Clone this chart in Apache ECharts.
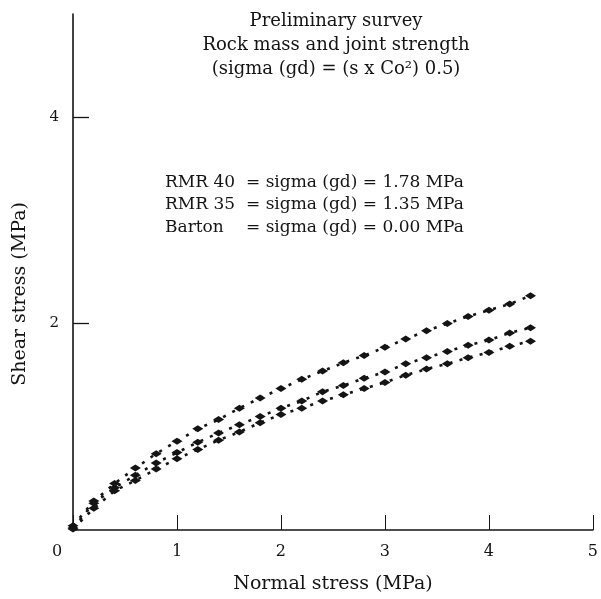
<!DOCTYPE html>
<html>
<head>
<meta charset="utf-8">
<script src="https://cdn.jsdelivr.net/npm/echarts@6/dist/echarts.min.js"></script>
<style>
html,body{margin:0;padding:0;background:#fff;}
#chart{width:601px;height:599px;}
</style>
</head>
<body>
<div id="chart"></div>
<script>
// Normal stress values (MPa)
const normalStress = [0,0.2,0.4,0.6,0.8,1.0,1.2,1.4,1.6,1.8,2.0,2.2,2.4,2.6,2.8,3.0,3.2,3.4,3.6,3.8,4.0,4.2,4.4];
// Shear stress (MPa) per criterion
const rmr40 = [0.04,0.28,0.45,0.60,0.74,0.86,0.98,1.07,1.18,1.28,1.37,1.46,1.54,1.62,1.69,1.77,1.85,1.93,2.00,2.07,2.13,2.19,2.27];
const rmr35 = [0.02,0.26,0.41,0.53,0.65,0.75,0.85,0.94,1.02,1.10,1.18,1.25,1.34,1.40,1.47,1.53,1.61,1.67,1.73,1.79,1.84,1.91,1.96];
const barton = [0.01,0.21,0.38,0.48,0.59,0.69,0.78,0.87,0.95,1.04,1.12,1.18,1.25,1.31,1.37,1.43,1.50,1.56,1.61,1.67,1.72,1.78,1.83];
const xTicks = [0,1,2,3,4,5];
const yTicks = [2,4];
const titleLines = ['Preliminary survey','Rock mass and joint strength','(sigma (gd) = (s x Co\u00B2) 0.5)'];
const noteNames = ['RMR 40','RMR 35','Barton'];
const noteTexts = ['= sigma (gd) = 1.78 MPa','= sigma (gd) = 1.35 MPa','= sigma (gd) = 0.00 MPa'];

const FONT = '"DejaVu Serif", serif';
const INK = '#141414';

function pairs(ys){ return normalStress.map((x,i)=>[x,ys[i]]); }

const seriesStyle = {
  type:'line',
  symbol:'diamond',
  symbolSize:[11,7],
  showAllSymbol:true,
  itemStyle:{color:INK},
  lineStyle:{color:INK,width:2.6,type:[3,7.4]},
  silent:true,
  animation:false
};

const graphics = [];
const noteTops = [174,196,219];
noteNames.forEach((n,i)=>{
  graphics.push({type:'text',left:165,top:noteTops[i],style:{text:n,font:'17px '+FONT,fill:INK}});
  graphics.push({type:'text',left:246,top:noteTops[i],style:{text:noteTexts[i],font:'17px '+FONT,fill:INK}});
});

const chart = echarts.init(document.getElementById('chart'),null,{renderer:'canvas'});
chart.setOption({
  backgroundColor:'#fff',
  animation:false,
  title:{
    text:titleLines.join('\n'),
    left:331, top:4, textAlign:'center',
    textStyle:{fontFamily:FONT,fontSize:18,fontWeight:'normal',color:INK,lineHeight:24}
  },
  grid:{left:73,right:8,top:14,bottom:66},
  xAxis:{
    type:'value',min:0,max:5,interval:1,
    name:'Normal stress (MPa)',nameLocation:'middle',nameGap:45,
    nameTextStyle:{fontFamily:FONT,fontSize:19,color:INK},
    axisLine:{lineStyle:{color:INK,width:1.6}},
    axisTick:{inside:true,length:15,lineStyle:{color:INK,width:1},customValues:xTicks},
    axisLabel:{fontFamily:FONT,fontSize:16,color:INK,margin:14,customValues:xTicks,
      formatter:v=> v===0 ? '{z|0}' : String(v),
      rich:{z:{fontFamily:FONT,fontSize:16,color:INK,padding:[0,32,0,0]}}},
    splitLine:{show:false}
  },
  yAxis:{
    type:'value',min:0,max:5,interval:1,
    name:'Shear stress (MPa)',nameLocation:'middle',nameGap:43,
    nameTextStyle:{fontFamily:FONT,fontSize:19,color:INK,padding:[0,44,0,0]},
    axisLine:{lineStyle:{color:INK,width:1.6}},
    axisTick:{inside:true,length:16,lineStyle:{color:INK,width:1.3},customValues:yTicks},
    axisLabel:{fontFamily:FONT,fontSize:15,color:INK,margin:14,customValues:yTicks},
    splitLine:{show:false}
  },
  graphic:graphics,
  series:[
    Object.assign({name:'RMR 40',data:pairs(rmr40)},seriesStyle),
    Object.assign({name:'RMR 35',data:pairs(rmr35)},seriesStyle),
    Object.assign({name:'Barton',data:pairs(barton)},seriesStyle)
  ]
});
</script>
</body>
</html>
